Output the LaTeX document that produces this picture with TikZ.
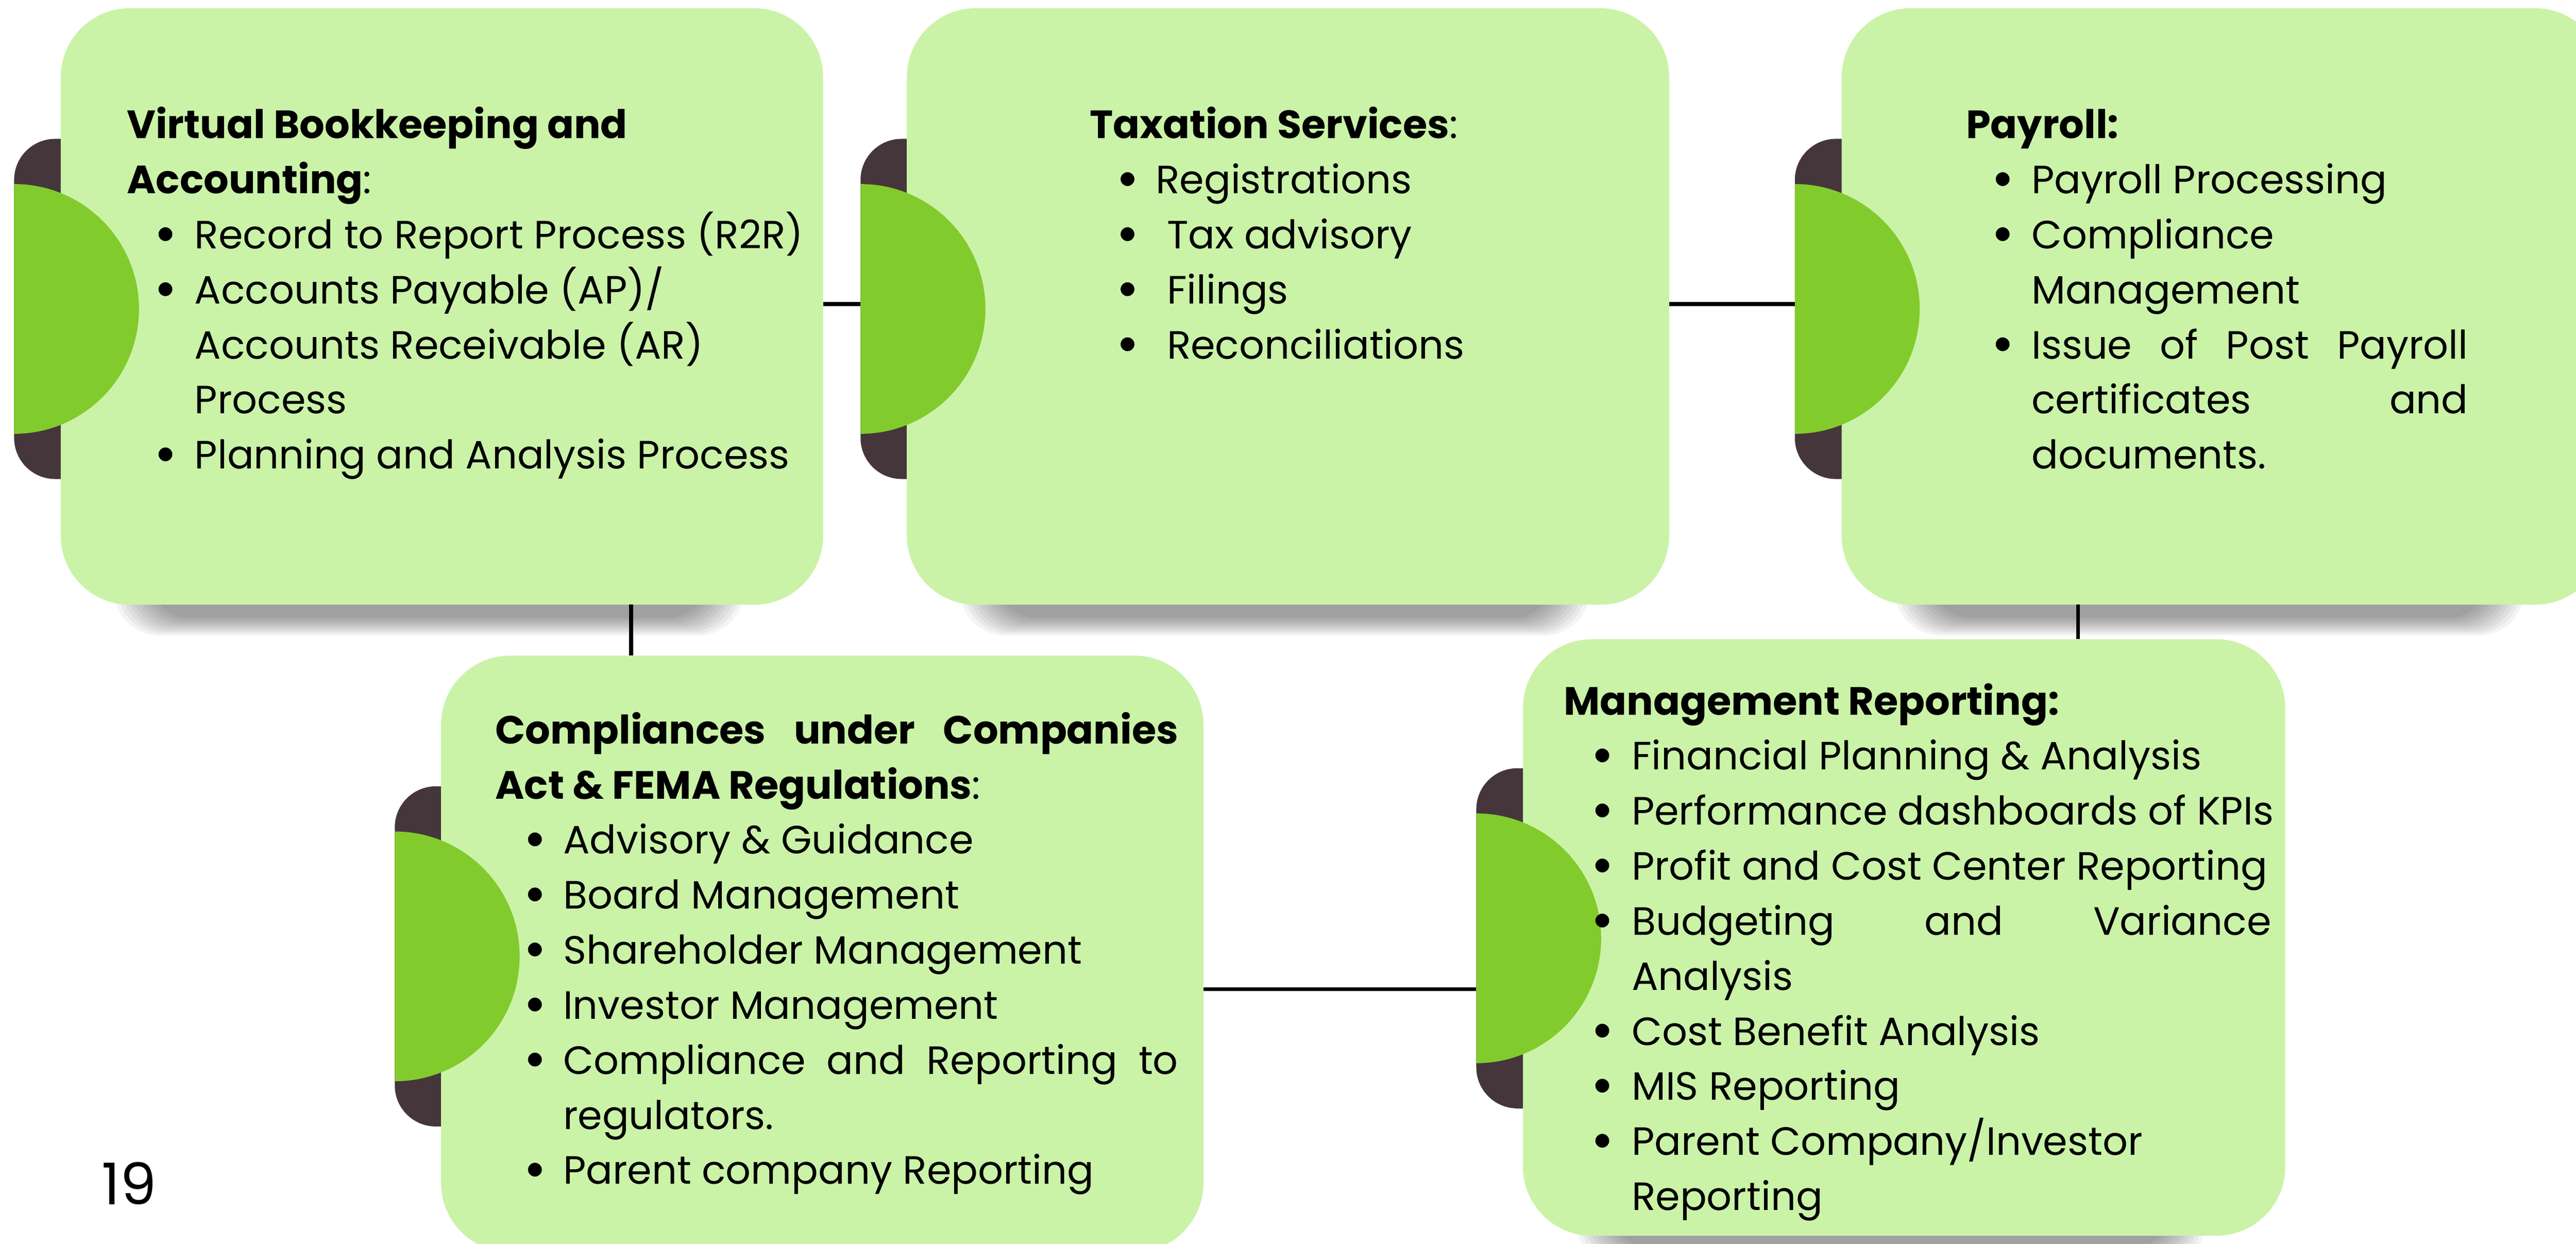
\documentclass[tikz,border=0pt]{standalone}
\usepackage{fontspec}
\setmainfont{Poppins}
\usetikzlibrary{calc}
\definecolor{boxfill}{HTML}{CAF3A8}
\definecolor{halfgreen}{HTML}{82CB2C}
\definecolor{tabdark}{HTML}{45363C}
\newdimen\bulx \newdimen\txtx
\newcommand\bul{\tikz[baseline=0pt,x=1pt,y=1pt]\fill[black] (0,8.8) circle[radius=4.2];}
\newcommand\bi[1]{\hbox{\hbox to\txtx{\hskip\bulx\hbox to 0pt{\hss\bul\hss}\hss}#1}}
\newcommand\ci[1]{\hbox{\hskip\txtx #1}}
\newcommand\bij[2]{\hbox{\hbox to\txtx{\hskip\bulx\hbox to 0pt{\hss\bul\hss}\hss}\hbox to #1{#2}}}
\newcommand\cij[2]{\hbox{\hskip\txtx\hbox to #1{#2}}}
\newcommand\ttl[1]{\hbox{#1}}
\newcommand\boxtext[1]{\vtop{\fontsize{24}{33.5}\selectfont\lineskiplimit=-100pt\lineskip=0pt #1}}
\tikzset{
  card/.style={rectangle, rounded corners=42pt, minimum width=464pt, minimum height=363pt, fill=boxfill, inner sep=0pt, outer sep=0pt},
  tab/.style={rectangle, rounded corners=25pt, minimum width=81pt, minimum height=207pt, fill=tabdark, inner sep=0pt, outer sep=0pt},
  txt/.style={anchor=base west, inner sep=0pt, outer sep=0pt, text=black},
  conn/.style={draw=black, line width=2.4pt},
  shade/.style={fill=black, fill opacity=0.045, rounded corners=28pt}
}
\begin{document}
\begin{tikzpicture}[x=1pt,y=-1pt]
\useasboundingbox (0,0) rectangle (1568,756.8);
\clip (0,0) rectangle (1568,756.8);
\fill[white] (0,0) rectangle (1568,756.8);

% tabs
\node[tab] (t1) at (49.1,188) {};
\node[tab] (t2) at (564.3,188) {};
\node[tab] (t3) at (1133,188) {};
\node[tab] (t4) at (280.8,582) {};
\node[tab] (t5) at (939.1,571) {};

\path (269,186.5) coordinate (c1) (784,186.5) coordinate (c2) (1353,186.5) coordinate (c3)
      (500.5,580.5) coordinate (c4) (1159,570.5) coordinate (c5);

% shadows under the cards
\foreach \c in {c1,c2,c3,c4,c5}{
  \foreach \k in {0,...,9}{
    \fill[shade] ($(\c)+(-8-172-2.2*\k,120)$) rectangle ($(\c)+(-8+172+2.2*\k,189.5+1.2*\k)$);
  }
}

\node[card] (b1) at (c1) {};
\node[card] (b2) at (c2) {};
\node[card] (b3) at (c3) {};
\node[card] (b4) at (c4) {};
\node[card] (b5) at (c5) {};

% connector anchor points
\coordinate (p12) at ($(b1.north east)!0.496!(b1.south east)$);
\coordinate (p23) at ($(b2.north east)!0.496!(b2.south east)$);
\coordinate (p14) at ($(b1.south west)!0.748!(b1.south east)$);
\coordinate (p35) at ($(b3.south west)!0.310!(b3.south east)$);
\coordinate (p45) at ($(b4.north east)!0.559!(b4.south east)$);

% connectors
\draw[conn] (p12) -- (p12 -| t2.west);
\draw[conn] (p23) -- (p23 -| t3.west);
\draw[conn] (p14) -- (p14 |- b4.north);
\draw[conn] (p35) -- (p35 |- b5.north);
\draw[conn] (p45) -- (p45 -| t5.west);

% green half discs
\foreach \t in {t1,t2,t3,t4,t5}{
  \fill[halfgreen] (\t.west) ++(0,-76) arc[start angle=90, end angle=-90, radius=76pt] -- cycle;
}

% texts
\node[txt] (x1) at (77.3,84.3) {\bulx=23.4pt \txtx=41.2pt \boxtext{%
  \ttl{\textbf{Virtual Bookkeeping and}}
  \ttl{\textbf{Accounting}:}
  \bi{Record to Report Process (R2R)}
  \bi{Accounts Payable (AP)/}
  \ci{Accounts Receivable (AR)}
  \ci{Process}
  \bi{Planning and Analysis Process}}};

\node[txt] (x2) at (663.3,84.3) {\bulx=23pt \txtx=40.2pt \boxtext{%
  \ttl{\textbf{Taxation Services}:}
  \bi{Registrations}
  \bi{\hskip6.8pt Tax advisory}
  \bi{\hskip6.8pt Filings}
  \bi{\hskip6.8pt Reconciliations}}};

\node[txt] (x3) at (1196.7,84.3) {\bulx=22.3pt \txtx=39.9pt \boxtext{%
  \ttl{\textbf{Payroll:}}
  \bi{Payroll Processing}
  \bi{Compliance}
  \ci{Management}
  \bij{265.7pt}{Issue\hfill of\hfill Post\hfill Payroll}
  \cij{265.7pt}{certificates\hfill and}
  \ci{documents.}}};

\node[txt] (x4) at (301.5,452.6) {\bulx=24.1pt \txtx=41.3pt \boxtext{%
  \hbox to 415.7pt{\bfseries Compliances\hfill under\hfill Companies}
  \ttl{\textbf{Act \& FEMA Regulations}:}
  \bi{Advisory \& Guidance}
  \bi{Board Management}
  \bi{Shareholder Management}
  \bi{Investor Management}
  \bij{374.4pt}{Compliance\hfill and\hfill Reporting\hfill to}
  \ci{regulators.}
  \bi{Parent company Reporting}}};

\node[txt] (x5) at (951.9,435) {\bulx=23.4pt \txtx=41.3pt \boxtext{%
  \ttl{\textbf{Management Reporting:}}
  \bi{Financial Planning \& Analysis}
  \bi{Performance dashboards of KPIs}
  \bi{Profit and Cost Center Reporting}
  \bij{389.3pt}{Budgeting\hfill and\hfill Variance}
  \ci{Analysis}
  \bi{Cost Benefit Analysis}
  \bi{MIS Reporting}
  \bi{Parent Company/Investor}
  \ci{Reporting}}};

\node[txt, font=\fontsize{35}{40}\selectfont] (pg) at (62,733) {19};
\end{tikzpicture}
\end{document}
